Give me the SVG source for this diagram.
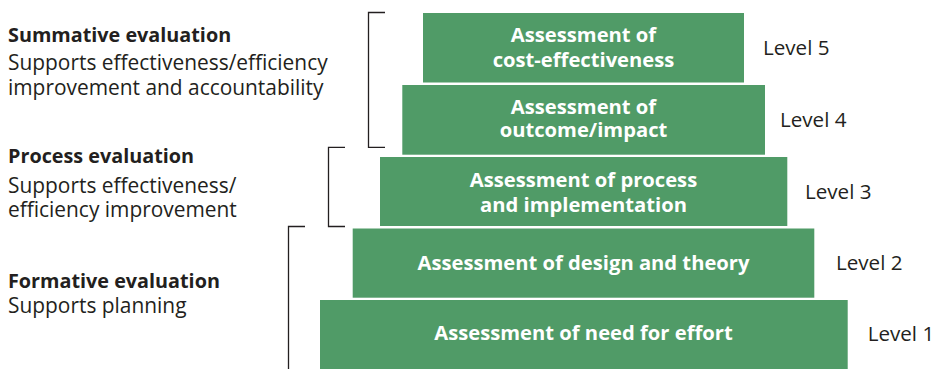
<svg xmlns="http://www.w3.org/2000/svg" width="935" height="369" viewBox="0 0 935 369">
<style>
.box{fill:#509b67}
.bt{font-family:"Open Sans","Noto Sans",sans-serif;font-weight:bold;font-size:20.2px;fill:#ffffff;text-anchor:middle}
.lv{font-family:"Open Sans","Noto Sans",sans-serif;font-size:20.6px;fill:#231f20}
.h{font-family:"Open Sans","Noto Sans",sans-serif;font-weight:bold;font-size:19.8px;fill:#231f20}
.t{font-family:"Open Sans","Noto Sans",sans-serif;font-size:20.9px;fill:#231f20}
.br{fill:none;stroke:#231f20;stroke-width:1.3}
</style>
<rect width="935" height="369" fill="#ffffff"/>
<g id="level5">
<rect class="box" x="423" y="13" width="321" height="69.5"/>
<text class="bt" x="583.5" y="42.3">Assessment of</text>
<text class="bt" x="583.5" y="67.3">cost-effectiveness</text>
<text class="lv" x="763" y="55">Level 5</text>
</g>
<g id="level4">
<rect class="box" x="402.3" y="85" width="362.7" height="69.7"/>
<text class="bt" x="583.5" y="114">Assessment of</text>
<text class="bt" x="583.5" y="137">outcome/impact</text>
<text class="lv" x="780" y="126.7">Level 4</text>
</g>
<g id="level3">
<rect class="box" x="380" y="157" width="407.3" height="69"/>
<text class="bt" x="583.5" y="186.7">Assessment of process</text>
<text class="bt" x="583.5" y="211.7">and implementation</text>
<text class="lv" x="805" y="199">Level 3</text>
</g>
<g id="level2">
<rect class="box" x="352.7" y="228.5" width="461.6" height="69.2"/>
<text class="bt" x="583.5" y="270">Assessment of design and theory</text>
<text class="lv" x="836" y="270">Level 2</text>
</g>
<g id="level1">
<rect class="box" x="320" y="300" width="527.7" height="69"/>
<text class="bt" x="583.5" y="340">Assessment of need for effort</text>
<text class="lv" x="867.7" y="340.7">Level 1</text>
</g>
<g id="summative">
<text class="h" x="8" y="41.7">Summative evaluation</text>
<text class="t" x="8" y="70">Supports effectiveness/efficiency</text>
<text class="t" x="8" y="95">improvement and accountability</text>
</g>
<g id="process">
<text class="h" x="8" y="163.3">Process evaluation</text>
<text class="t" x="8" y="192.7">Supports effectiveness/</text>
<text class="t" x="8" y="217.3">efficiency improvement</text>
</g>
<g id="formative">
<text class="h" x="8" y="288.3">Formative evaluation</text>
<text class="t" x="8" y="313.3">Supports planning</text>
</g>
<g id="connectors">
<path class="br" d="M385 12.5H368.5V147.3H385"/>
<path class="br" d="M345 147.3H328.5V226.5H345"/>
<path class="br" d="M305 226.5H288.5V369"/>
</g>
</svg>
